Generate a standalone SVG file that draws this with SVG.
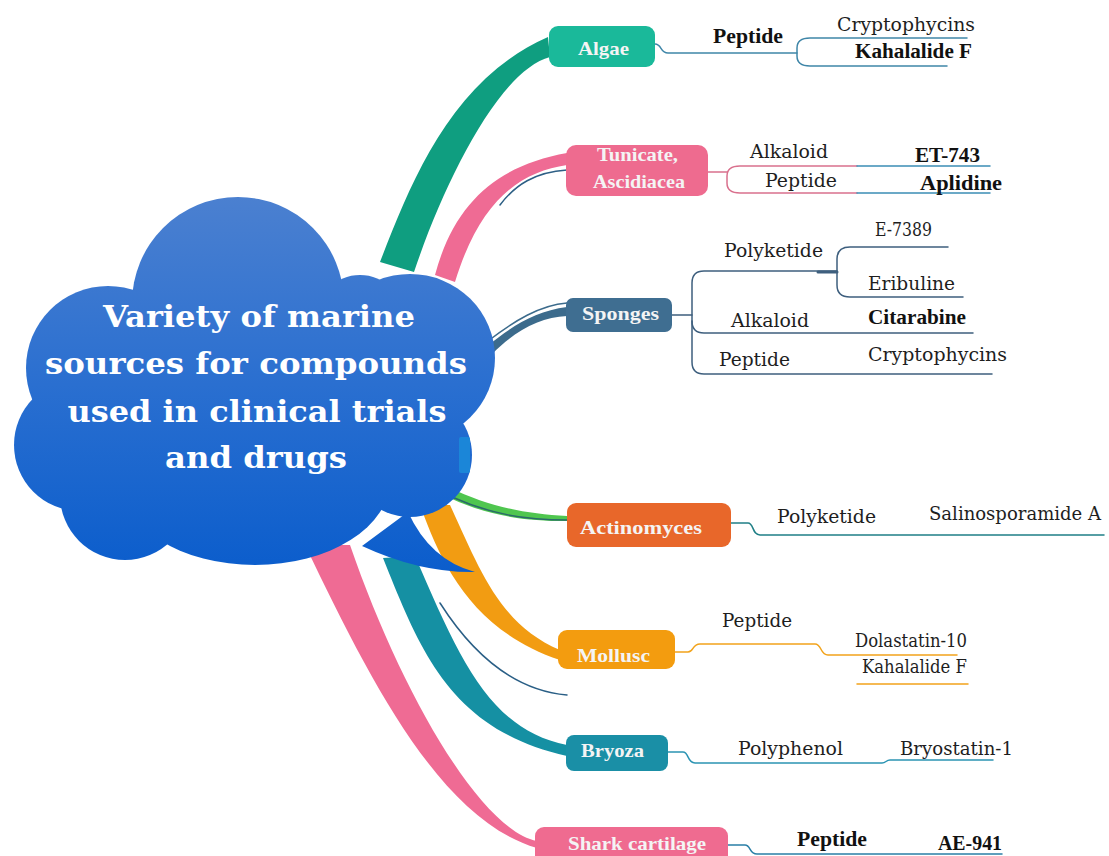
<svg xmlns="http://www.w3.org/2000/svg" width="1109" height="856" viewBox="0 0 1109 856">
<defs>
<linearGradient id="cloudGrad" gradientUnits="userSpaceOnUse" x1="0" y1="197" x2="0" y2="572">
<stop offset="0" stop-color="#4b80d0"/>
<stop offset="0.5" stop-color="#2a6fd0"/>
<stop offset="1" stop-color="#0b5dcc"/>
</linearGradient>
<style>
.node rect{stroke:none}
.nl{font-family:"Liberation Serif","Times New Roman",serif;font-weight:bold;font-size:19px;fill:#f4f4f4}
.lb{font-family:"DejaVu Serif","Liberation Serif",serif;font-size:19px;fill:#1e1e1e}
.lbb{font-family:"Liberation Serif","Times New Roman",serif;font-size:20px;font-weight:bold;fill:#111}
.ct{font-family:"DejaVu Serif","Liberation Serif",serif;font-weight:bold;font-size:30px;fill:#ffffff;text-anchor:middle}
.ln{fill:none;stroke-width:1.5;stroke-linecap:round;stroke-linejoin:round}
</style>
</defs>
<rect width="1109" height="856" fill="#ffffff"/>

<g id="connectors">
<!-- ribbons -->
<path d="M380,262 C410,185 450,80 548,37 L550,57 C500,70 445,180 414,272 Z" fill="#0f9e80"/>
<path d="M435,275 C455,200 500,165 567,153 L567,165 C520,172 480,200 455,282 Z" fill="#ef6b94"/>
<path d="M500,205 C515,185 535,172 567,170" class="ln" stroke="#2d5f85" stroke-width="1.2"/>
<path d="M486,347 C512,326 535,311 567,307 L567,316 C540,317 515,331 492,354 Z" fill="#3c6b8c"/>
<path d="M488,341 C514,321 540,305 567,303" class="ln" stroke="#3c6b8c" stroke-width="1.3"/>
<path d="M448,487 C490,507 525,514 567,516 L567,521 C525,521 490,516 452,499 Z" fill="#4fc64f"/>
<path d="M452,497 C490,514 525,520 567,520" class="ln" stroke="#2a6a6a" stroke-width="1"/>
<path d="M420,505 C440,560 470,630 560,660 L560,650 C500,625 480,570 450,505 Z" fill="#f29c12"/>
<path d="M383,558 C420,650 450,730 567,756 L567,745 C490,730 460,660 415,556 Z" fill="#1590a3"/>
<path d="M440,603 C470,650 510,690 567,695" class="ln" stroke="#2a5f86" stroke-width="1.1"/>
<path d="M305,545 C370,680 440,820 537,848 L537,841 C480,830 400,690 350,545 Z" fill="#ef6b94"/>

<!-- Algae branch -->
<g stroke="#3f86a8" class="ln">
<path d="M655,44 C662,44 660,53 668,53 L797,53"/>
<path d="M967,38 L810,38 Q797,38 797,48 L797,56 Q797,66 810,66 L947,66"/>
</g>
<!-- Tunicate branch -->
<g class="ln">
<path d="M708,172 L727,172" stroke="#d9708d"/>
<path d="M857,166 L740,166 Q727,166 727,176 L727,183 Q727,193 740,193 L857,193" stroke="#d9708d"/>
<path d="M857,166 L990,166 M857,193 L990,193" stroke="#3b8db5"/>
</g>
<!-- Sponges branch -->
<g class="ln" stroke="#3e5f7e">
<path d="M672,315 L692,315"/>
<path d="M837,271 L704,271 Q692,271 692,283 L692,362 Q692,374 704,374 L992,374"/>
<path d="M692,321 Q692,333 704,333 L973,333"/>
<path d="M948,247 L850,247 Q837,247 837,259 L837,285 Q837,297 850,297 L963,297"/>
<path d="M818,272 L837,272" stroke-width="3"/>
</g>
<!-- Actinomyces branch -->
<path d="M731,523 L748,523 C754,523 752,535 760,535 L1104,535" class="ln" stroke="#1f7f86"/>
<!-- Mollusc branch -->
<g class="ln" stroke="#f2a31b">
<path d="M675,652 L688,652 C694,652 692,644 700,644 L815,644 C822,644 820,655 828,655 L957,655"/>
<path d="M857,684 L968,684"/>
</g>
<!-- Bryoza branch -->
<path d="M668,752 L683,752 C689,752 687,763 695,763 L882,763 C886,763 886,760 890,760 L993,760" class="ln" stroke="#2b94b3"/>
<!-- Shark branch -->
<path d="M728,845 L745,845 C751,845 749,854 757,854 L1002,854" class="ln" stroke="#2a7fa6"/>
</g>

<g id="center">
<g fill="url(#cloudGrad)">
<circle cx="238" cy="303" r="106"/>
<circle cx="360" cy="320" r="45"/>
<circle cx="108" cy="368" r="82"/>
<circle cx="80" cy="445" r="66"/>
<circle cx="125" cy="495" r="65"/>
<ellipse cx="255" cy="480" rx="135" ry="85"/>
<ellipse cx="410" cy="358" rx="85" ry="84"/>
<circle cx="410" cy="455" r="62"/>
<ellipse cx="270" cy="410" rx="190" ry="120"/>
<path d="M408,512 Q430,560 475,572 Q420,573 362,546 Z"/>
</g>
<rect x="459" y="437" width="11" height="36" rx="2" fill="#1b86d8"/>
<text class="ct" x="259" y="327" textLength="312" lengthAdjust="spacingAndGlyphs">Variety of marine</text>
<text class="ct" x="256" y="374" textLength="422" lengthAdjust="spacingAndGlyphs">sources for compounds</text>
<text class="ct" x="257" y="422" textLength="379" lengthAdjust="spacingAndGlyphs">used in clinical trials</text>
<text class="ct" x="256" y="468" textLength="182" lengthAdjust="spacingAndGlyphs">and drugs</text>
</g>

<g id="node-algae" class="node">
<rect x="549" y="26" width="106" height="41" rx="9" fill="#1ab99a"/>
<text class="nl" x="578" y="55" textLength="51" lengthAdjust="spacingAndGlyphs">Algae</text>
</g>
<g id="node-tunicate" class="node">
<rect x="566" y="145" width="142" height="51" rx="10" fill="#ee6b8f"/>
<text class="nl" x="597" y="161" textLength="81" lengthAdjust="spacingAndGlyphs">Tunicate,</text>
<text class="nl" x="593" y="188" textLength="92" lengthAdjust="spacingAndGlyphs">Ascidiacea</text>
</g>
<g id="node-sponges" class="node">
<rect x="566" y="298" width="106" height="34" rx="7" fill="#3f6e91"/>
<text class="nl" x="582" y="320" textLength="77" lengthAdjust="spacingAndGlyphs">Sponges</text>
</g>
<g id="node-actinomyces" class="node">
<rect x="567" y="503" width="164" height="44" rx="9" fill="#e8672a"/>
<text class="nl" x="580" y="534" textLength="122" lengthAdjust="spacingAndGlyphs">Actinomyces</text>
</g>
<g id="node-mollusc" class="node">
<rect x="558" y="630" width="117" height="39" rx="9" fill="#f39c0f"/>
<text class="nl" x="577" y="662" textLength="73" lengthAdjust="spacingAndGlyphs">Mollusc</text>
</g>
<g id="node-bryoza" class="node">
<rect x="566" y="735" width="102" height="36" rx="8" fill="#1a8fa6"/>
<text class="nl" x="581" y="757" textLength="63" lengthAdjust="spacingAndGlyphs">Bryoza</text>
</g>
<g id="node-shark" class="node">
<rect x="535" y="827" width="193" height="40" rx="9" fill="#ef6b90"/>
<text class="nl" x="568" y="850" textLength="138" lengthAdjust="spacingAndGlyphs">Shark cartilage</text>
</g>

<g id="label-algae-peptide"><text class="lbb" x="713" y="43" textLength="70" lengthAdjust="spacingAndGlyphs">Peptide</text></g>
<g id="label-algae-cryptophycins"><text class="lb" x="837" y="31" textLength="138" lengthAdjust="spacingAndGlyphs" fill="#3a3a3a">Cryptophycins</text></g>
<g id="label-algae-kahalalide"><text class="lbb" x="855" y="58" textLength="117" lengthAdjust="spacingAndGlyphs">Kahalalide F</text></g>

<g id="label-tun-alkaloid"><text class="lb" x="750" y="158" textLength="78" lengthAdjust="spacingAndGlyphs">Alkaloid</text></g>
<g id="label-tun-et743"><text class="lbb" x="915" y="162" textLength="65" lengthAdjust="spacingAndGlyphs">ET-743</text></g>
<g id="label-tun-peptide"><text class="lb" x="765" y="187" textLength="72" lengthAdjust="spacingAndGlyphs">Peptide</text></g>
<g id="label-tun-aplidine"><text class="lbb" x="920" y="190" textLength="82" lengthAdjust="spacingAndGlyphs">Aplidine</text></g>

<g id="label-spo-polyketide"><text class="lb" x="724" y="257" textLength="99" lengthAdjust="spacingAndGlyphs">Polyketide</text></g>
<g id="label-spo-e7389"><text class="lb" x="875" y="236" textLength="57" lengthAdjust="spacingAndGlyphs">E-7389</text></g>
<g id="label-spo-eribuline"><text class="lb" x="868" y="290" textLength="87" lengthAdjust="spacingAndGlyphs">Eribuline</text></g>
<g id="label-spo-alkaloid"><text class="lb" x="731" y="327" textLength="78" lengthAdjust="spacingAndGlyphs">Alkaloid</text></g>
<g id="label-spo-citarabine"><text class="lbb" x="868" y="324" textLength="98" lengthAdjust="spacingAndGlyphs">Citarabine</text></g>
<g id="label-spo-peptide"><text class="lb" x="719" y="366" textLength="71" lengthAdjust="spacingAndGlyphs">Peptide</text></g>
<g id="label-spo-cryptophycins"><text class="lb" x="868" y="361" textLength="139" lengthAdjust="spacingAndGlyphs">Cryptophycins</text></g>

<g id="label-act-polyketide"><text class="lb" x="777" y="523" textLength="99" lengthAdjust="spacingAndGlyphs">Polyketide</text></g>
<g id="label-act-salino"><text class="lb" x="929" y="520" textLength="172" lengthAdjust="spacingAndGlyphs">Salinosporamide A</text></g>

<g id="label-mol-peptide"><text class="lb" x="722" y="627" textLength="70" lengthAdjust="spacingAndGlyphs">Peptide</text></g>
<g id="label-mol-dolastatin"><text class="lb" x="855" y="647" textLength="112" lengthAdjust="spacingAndGlyphs">Dolastatin-10</text></g>
<g id="label-mol-kahalalide"><text class="lb" x="862" y="673" textLength="105" lengthAdjust="spacingAndGlyphs">Kahalalide F</text></g>

<g id="label-bry-polyphenol"><text class="lb" x="738" y="755" textLength="105" lengthAdjust="spacingAndGlyphs">Polyphenol</text></g>
<g id="label-bry-bryostatin"><text class="lb" x="900" y="755" textLength="113" lengthAdjust="spacingAndGlyphs">Bryostatin-1</text></g>

<g id="label-sha-peptide"><text class="lbb" x="797" y="846" textLength="70" lengthAdjust="spacingAndGlyphs">Peptide</text></g>
<g id="label-sha-ae941"><text class="lbb" x="938" y="850" textLength="64" lengthAdjust="spacingAndGlyphs">AE-941</text></g>
</svg>
